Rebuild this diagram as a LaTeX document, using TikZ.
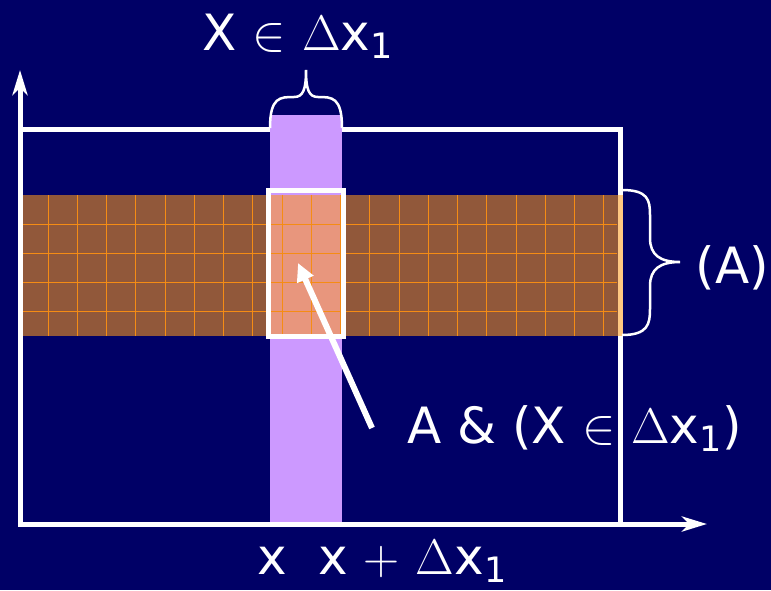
\documentclass[tikz,border=0pt]{standalone}
\usepackage{fix-cm}
\usepackage[no-math]{fontspec}
\setmainfont{DejaVu Sans}
\usetikzlibrary{arrows.meta}

\definecolor{navy}{RGB}{0,0,102}
\definecolor{lilac}{RGB}{204,153,255}
\definecolor{bandbrown}{RGB}{145,88,58}
\definecolor{gridorange}{RGB}{245,140,20}
\definecolor{salmon}{RGB}{232,150,125}
\definecolor{paleorange}{RGB}{255,200,130}

\begin{document}
\begin{tikzpicture}[x=1pt,y=-1pt,line width=5pt,
  axis/.style={white,-{Stealth[length=25pt,width=15pt,inset=7pt]}},
  pointer/.style={white,line width=6pt,-{Triangle[length=18pt,width=17pt]}},
  brace/.style={white,line width=2.5pt},
  lbl/.style={white,inner sep=0pt,font=\fontsize{50}{56}\selectfont}]
  \fill[navy] (0,0) rectangle (771,590);
  \useasboundingbox (0,0) rectangle (771,590);

  \coordinate (origin) at (20,524);
  \coordinate (ytip) at (20,70);
  \coordinate (xtip) at (707,524);

  % frame, strip and band
  \draw[white] (20,129) rectangle (620,524);
  \fill[lilac] (270,115) rectangle (342,524);
  \fill[bandbrown] (22,195) rectangle (622,336);
  \fill[paleorange] (617.5,195) rectangle (622.5,336);
  \fill[salmon] (270,195) rectangle (342,336);
  \foreach \gx in {48,77.25,...,620}
    \draw[gridorange,line width=1pt] (\gx,195) -- (\gx,336);
  \foreach \gy in {224,253,282,311}
    \draw[gridorange,line width=1pt] (22,\gy) -- (617,\gy);
  \draw[white] (268.5,190) rectangle (343,336);

  % axes
  \draw[axis] (origin) -- (ytip);
  \draw[axis] (origin) -- (xtip);

  % braces
  \draw[brace] (270,128) .. controls (270,97) and (280,97) .. (294,97)
    .. controls (303,97) and (306,90) .. (306,70)
    .. controls (306,90) and (309,97) .. (318,97)
    .. controls (332,97) and (342,97) .. (342,128);
  \draw[brace] (622,190) .. controls (648,190) and (650,200) .. (650,215)
    -- (650,238) .. controls (650,255) and (660,262) .. (680,262)
    .. controls (660,262) and (650,269) .. (650,286)
    -- (650,309) .. controls (650,324) and (648,335) .. (622,335);

  % labels
  \node[lbl,anchor=base] (toplabel) at (298,50) {X $\in$ $\Delta$x\textsubscript{1}};
  \node[lbl,anchor=base west] (alabel) at (693,283) {(A)};
  \node[lbl,anchor=base west] (jointlabel) at (405,443)
    {A \& (X $\in$ $\Delta$x\textsubscript{1})};
  \node[lbl,anchor=base west] (xlabel) at (255,574) {x};
  \node[lbl,anchor=base west] (xdxlabel) at (316,574) {x $+$ $\Delta$x\textsubscript{1}};

  \coordinate (tail) at (372,428);
  \coordinate (head) at (298,263);
  \draw[pointer] (tail) -- (head);
\end{tikzpicture}
\end{document}
